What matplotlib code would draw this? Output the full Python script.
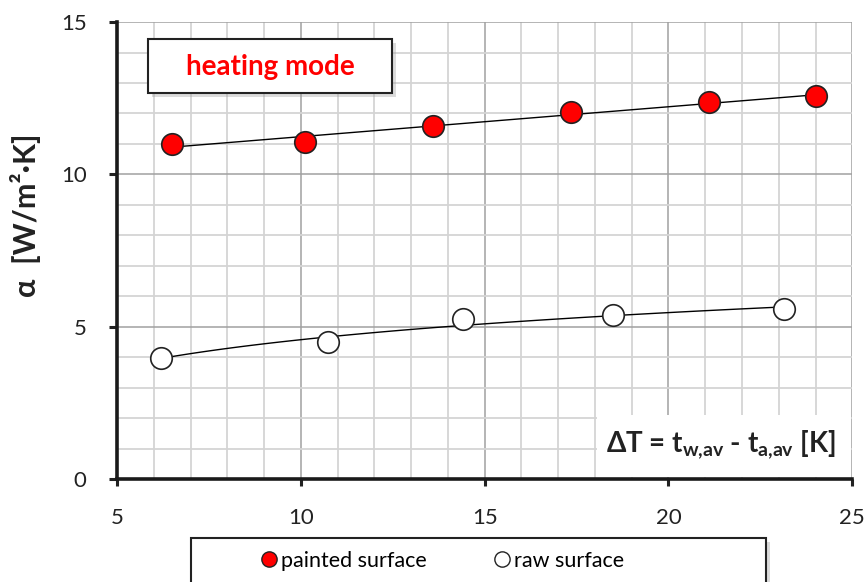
import numpy as np
import matplotlib
matplotlib.use("Agg")
import matplotlib.pyplot as plt
import matplotlib.patheffects as pe
from matplotlib.patches import Rectangle
from matplotlib.lines import Line2D

plt.rcParams['font.family'] = ['Lato', 'DejaVu Sans']
plt.rcParams['mathtext.fontset'] = 'custom'
plt.rcParams['mathtext.rm'] = 'Lato'
plt.rcParams['mathtext.bf'] = 'Lato:bold'

# data
painted_dT = [6.5, 10.1, 13.6, 17.35, 21.1, 24.0]
painted_alpha = [11.0, 11.08, 11.58, 12.04, 12.37, 12.57]
raw_dT = [6.2, 10.75, 14.4, 18.5, 23.15]
raw_alpha = [3.98, 4.5, 5.25, 5.37, 5.58]

fig = plt.figure(figsize=(8.67, 5.82), dpi=100)
ax = fig.add_axes([0.135, 0.177, 0.848, 0.785])

# trend lines: linear for painted, logarithmic for raw
k, b = np.polyfit(painted_dT, painted_alpha, 1)
xp = np.linspace(min(painted_dT), max(painted_dT), 50)
ax.plot(xp, k * xp + b, color='black', lw=1, zorder=3)
a, c = np.polyfit(np.log(raw_dT), raw_alpha, 1)
xr = np.linspace(min(raw_dT), max(raw_dT), 100)
ax.plot(xr, a * np.log(xr) + c, color='black', lw=1, zorder=3)

ax.plot(painted_dT, painted_alpha, 'o', ms=15.5, mfc='#ff0000', mec='#222222', mew=1.2, zorder=4)
ax.plot(raw_dT, raw_alpha, 'o', ms=15.5, mfc='white', mec='#222222', mew=1.2, zorder=4)

ax.set_xlim(5, 25)
ax.set_ylim(0, 15)
ax.set_xticks(range(5, 26, 5))
ax.set_yticks(range(0, 16, 5))
ax.set_xticks(range(5, 26), minor=True)
ax.set_yticks(range(0, 16), minor=True)
ax.grid(which='minor', color='#d4d4d4', lw=1.3)
ax.grid(which='major', color='#a0a0a0', lw=1.1)
ax.set_axisbelow(True)
ax.tick_params(which='minor', length=0)
ax.tick_params(axis='y', which='major', length=6, width=2.2, direction='out', labelsize=16, colors='#222222', pad=16)
ax.tick_params(axis='x', which='major', length=5, width=2.2, direction='out', labelsize=16, colors='#222222', pad=16)
for s in ['top', 'right']:
    ax.spines[s].set_visible(False)
for s in ['left', 'bottom']:
    ax.spines[s].set_linewidth(2.6)
    ax.spines[s].set_color('#1a1a1a')
    ax.spines[s].set_zorder(5)

ax.set_ylabel('α  [W/m²·K]', fontsize=22, fontweight='bold', color='#222222', va='center')
ax.yaxis.set_label_coords(-0.125, 0.578)

shadow = [pe.SimplePatchShadow(offset=(3, -3), alpha=0.35, rho=0.6), pe.Normal()]

# "heating mode" box
box = Rectangle((0.042, 0.845), 0.332, 0.118, transform=ax.transAxes,
                facecolor='white', edgecolor='#222222', lw=1.5, zorder=6)
box.set_path_effects(shadow)
ax.add_patch(box)
ax.text(0.208, 0.902, 'heating mode', transform=ax.transAxes, ha='center', va='center',
        color='#ff0000', fontsize=20, fontweight='bold', zorder=7)

# x label inside the plot area
ax.add_patch(Rectangle((0.653, 0.005), 0.345, 0.135, transform=ax.transAxes,
                       facecolor='white', edgecolor='none', zorder=2.5))
ax.text(0.822, 0.076, r'ΔT = t$_\mathbf{w{,}av}$ - t$_\mathbf{a{,}av}$ [K]', transform=ax.transAxes,
        ha='center', va='center', fontsize=20, fontweight='bold', color='#222222', zorder=6)

# legend below the axes
frame = Rectangle((191 / 867, -0.05), 575 / 867, (582 - 538) / 582 + 0.05, transform=fig.transFigure,
                  facecolor='white', edgecolor='#222222', lw=1.5)
frame.set_path_effects(shadow)
fig.patches.append(frame)
handles = [Line2D([], [], ls='none', marker='o', ms=11, mfc='#ff0000', mec='#222222', mew=1),
           Line2D([], [], ls='none', marker='o', ms=11, mfc='white', mec='#222222', mew=1)]
fig.legend(handles, ['painted surface', 'raw surface'], ncol=2, frameon=False, fontsize=15.5,
           loc='center left', bbox_to_anchor=(251 / 867, 1 - 561 / 582),
           handlelength=0.7, handletextpad=0.2, columnspacing=3.15, borderpad=0)

fig.savefig('out.png', dpi=100)
